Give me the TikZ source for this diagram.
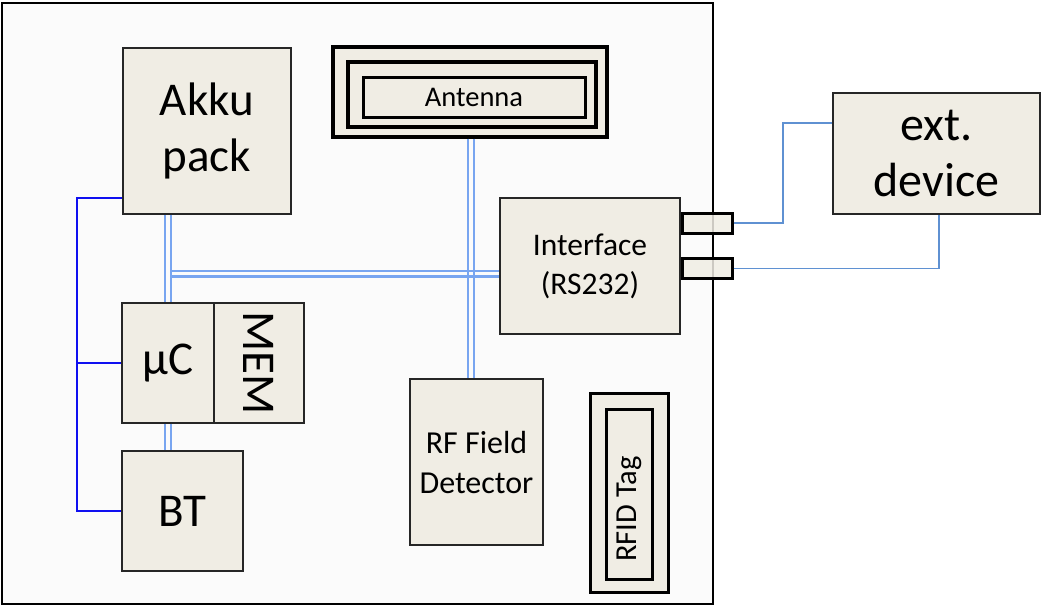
\documentclass[tikz,border=0pt]{standalone}
\usepackage{fontspec}
\setmainfont{Carlito}
\usetikzlibrary{calc}
\definecolor{boxfill}{RGB}{240,237,228}
\definecolor{framefill}{RGB}{251,251,251}
\definecolor{dblue}{RGB}{120,165,240}
\definecolor{lblue}{RGB}{95,145,210}
\definecolor{busblue}{RGB}{15,15,240}
\begin{document}
\begin{tikzpicture}[x=1pt,y=-1pt,
  blk/.style={draw=black!85, line width=1.7pt, fill=boxfill, inner sep=0pt, align=center},
  thickblk/.style={blk, draw=black, line width=3.4pt},
  bigtxt/.style={font=\fontsize{47}{56}\selectfont},
  vdbl/.style={draw=none,
    preaction={draw=dblue, line width=2.2pt, transform canvas={xshift=-2.9pt}},
    postaction={draw=dblue, line width=2.2pt, transform canvas={xshift=2.9pt}}},
  hdbl/.style={draw=none,
    preaction={draw=dblue, line width=2.2pt, transform canvas={yshift=-2.9pt}},
    postaction={draw=dblue, line width=2.2pt, transform canvas={yshift=2.9pt}}},
  busline/.style={draw=busblue, line width=2.3pt},
  thinline/.style={draw=lblue, line width=1.6pt},
  plug/.style={draw=black, line width=3pt, fill=boxfill, fill opacity=0.85, minimum width=50pt, minimum height=20pt, inner sep=0pt}]
\useasboundingbox (0,0) rectangle (1046,606);
% frame
\node[draw=black, line width=2pt, fill=framefill, minimum width=711pt, minimum height=601pt, inner sep=0pt] (frame) at (357.5,303.5) {};
% blocks
\node[blk, bigtxt, minimum width=168pt, minimum height=166pt] (akku) at (207,131) {Akku\\pack};
\node[thickblk, minimum width=274pt, minimum height=90pt] (antO) at (470,92) {};
\node[thickblk, minimum width=248pt, minimum height=65pt] (antM) at (472,94.5) {};
\node[thickblk, line width=3pt, font=\fontsize{28.5}{32}\selectfont, minimum width=222pt, minimum height=40pt] (antI) at (474,97) {Antenna};
\node[blk, font=\fontsize{31.5}{39}\selectfont, minimum width=180pt, minimum height=136pt] (iface) at (590,266) {Interface\\(RS232)};
\node[blk, bigtxt, font=\fontsize{48}{56}\selectfont, minimum width=207pt, minimum height=121pt] (ext) at (936.5,153.5) {ext.\\device};
\node[blk, bigtxt, minimum width=92pt, minimum height=120pt] (mu) at (168,363) {µC};
\node[blk, bigtxt, rotate=-90, minimum width=120pt, minimum height=90pt] (mem) at (259,363) {MEM};
\node[blk, bigtxt, minimum width=121pt, minimum height=120pt] (bt) at (182.5,511) {BT};
\node[blk, font=\fontsize{32}{40}\selectfont, minimum width=133pt, minimum height=166pt] (rf) at (476.5,462) {RF Field\\Detector};
\node[thickblk, line width=3pt, minimum width=78pt, minimum height=199pt] (tagO) at (629,492.5) {};
\node[thickblk, line width=3pt, rotate=90, font=\fontsize{30.5}{36}\selectfont, minimum width=170pt, minimum height=46pt] (tagI) at (629,494) {RFID Tag\hspace*{30pt}};
% RS232 plugs
\node[plug] (c1) at (707,223) {};
\node[plug] (c2) at (707,268.5) {};
% double (light blue) buses
\coordinate (av) at (471,0);
\coordinate (hb) at (171,273.5);
\path[vdbl] (av |- antO.south) -- (av |- rf.north);
\path[vdbl] (mu.north |- akku.south) -- (mu.north);
\path[hdbl] (hb) -- (hb -| iface.west);
\path[vdbl] (mu.south) -- (mu.south |- bt.north);
% power bus (blue)
\coordinate (b1) at (77,198);
\draw[busline] (akku.west |- b1) -- (b1) -- (b1 |- bt.west) -- (bt.west);
\draw[busline] (b1 |- mu.west) -- (mu.west);
% external lines
\coordinate (k1) at (783,123);
\coordinate (k2) at (939,0);
\draw[thinline] (c1.east) -| (k1) -- (k1 -| ext.west);
\draw[thinline] (c2.east) -| (k2 |- ext.south);
\end{tikzpicture}
\end{document}
